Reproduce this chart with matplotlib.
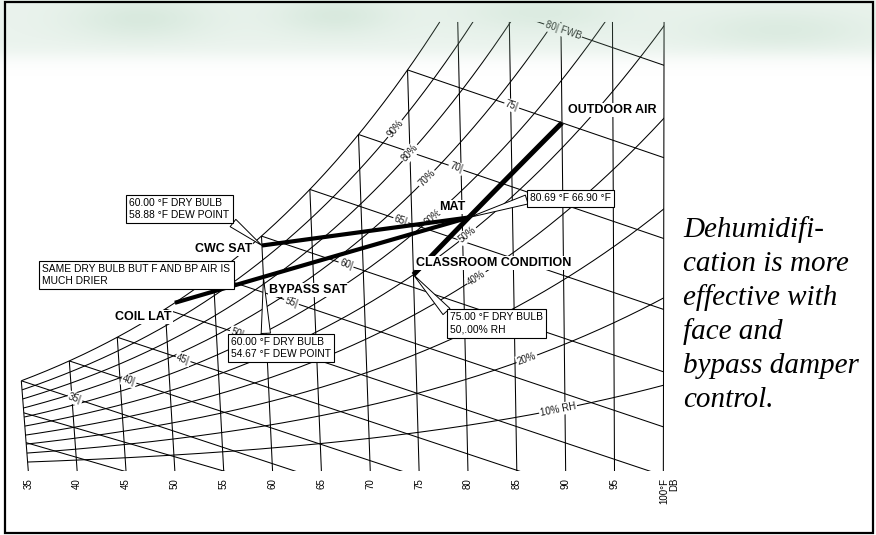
import numpy as np
import matplotlib
matplotlib.use("Agg")
import matplotlib.pyplot as plt
from matplotlib.patches import Polygon, Rectangle

# ------------------------------------------------------------------
# Chart data
# ------------------------------------------------------------------
db_ticks = [35, 40, 45, 50, 55, 60, 65, 70, 75, 80, 85, 90, 95, 100]
wb_lines = [25, 30, 35, 40, 45, 50, 55, 60, 65, 70, 75, 80]
wb_labelled = [35, 40, 45, 50, 55, 60, 65, 70, 75, 80]
rh_lines = [10, 20, 30, 40, 50, 60, 70, 80, 90]
rh_labelled = [90, 80, 70, 60, 50, 40, 20, 10]

outdoor_db, outdoor_wb = 90.0, 75.0
room_db, room_rh = 75.00, 50.00
mat_db, mat_wb = 80.69, 66.90
cwc_db, cwc_dp = 60.00, 58.88
bypass_db, bypass_dp = 60.00, 54.67
coil_db, coil_dp = 51.0, 51.0

side_note = ["Dehumidifi-", "cation is more", "effective with",
             "face and", "bypass damper", "control."]

# ------------------------------------------------------------------
# Psychrometric relations (IP units)
# ------------------------------------------------------------------
P_ATM = 10.3  # psia


def p_ws(t_f):
    t_f = np.asarray(t_f, dtype=float)
    t = t_f + 459.67
    water = np.exp(-1.0440397e4 / t - 1.1294650e1 - 2.7022355e-2 * t
                   + 1.2890360e-5 * t ** 2 - 2.4780681e-9 * t ** 3
                   + 6.5459673 * np.log(t))
    ice = np.exp(-1.0214165e4 / t - 4.8932428 - 5.3765794e-3 * t
                 + 1.9202377e-7 * t ** 2 + 3.5575832e-10 * t ** 3
                 - 9.0344688e-14 * t ** 4 + 4.1635019 * np.log(t))
    return np.where(t_f >= 32, water, ice)


def w_from_pw(pw):
    return 0.621945 * pw / (P_ATM - pw)


def w_sat(t):
    return w_from_pw(p_ws(t))


def w_rh(t, rh):
    return w_from_pw(rh * p_ws(t))


def w_dp(tdp):
    return w_from_pw(p_ws(tdp))


def w_wb(t, twb):
    t = np.asarray(t, dtype=float)
    ws = w_sat(twb)
    if twb >= 32:
        return ((1093 - 0.556 * twb) * ws - 0.240 * (t - twb)) / (1093 + 0.444 * t - twb)
    return ((1220 - 0.04 * twb) * ws - 0.240 * (t - twb)) / (1220 + 0.444 * t - 0.48 * twb)


# Oblique chart coordinate: dry-bulb lines fan slightly about T_VERT
LEAN = 18 / 9.77
T_VERT = 98.7
W_TOP = 0.03034


def chart_x(t, w):
    return t + LEAN * w * (t - T_VERT)


# ------------------------------------------------------------------
# Figure
# ------------------------------------------------------------------
W_PX, H_PX = 876, 535
fig = plt.figure(figsize=(W_PX / 100, H_PX / 100), dpi=100)
fig.patch.set_facecolor("white")

# soft green haze along the top edge
yy, xx = np.mgrid[0:H_PX, 0:W_PX].astype(float)
fade = 1.0 / (1.0 + np.exp((yy - 56) / 5.0))
blobs = (0.55 * np.exp(-((xx - 140) / 70) ** 2 - ((yy - 18) / 22) ** 2)
         + 0.55 * np.exp(-((xx - 335) / 60) ** 2 - ((yy - 15) / 20) ** 2)
         + 0.45 * np.exp(-((xx - 540) / 80) ** 2 - ((yy - 12) / 20) ** 2)
         + 0.45 * np.exp(-((xx - 780) / 90) ** 2 - ((yy - 30) / 22) ** 2))
alpha = fade * (0.20 + 0.30 * blobs)
haze = np.zeros((H_PX, W_PX, 4))
haze[..., 0] = 150 / 255
haze[..., 1] = 196 / 255
haze[..., 2] = 165 / 255
haze[..., 3] = np.clip(alpha, 0, 1)
fig.figimage(haze, 0, 0, origin="upper", zorder=0)

ax = fig.add_axes([0, 0, 1, 1])
ax.patch.set_alpha(0)
ax.set_axis_off()
ax.set_xlim(35 - 28.3 / 9.77, 35 + (W_PX - 28.3) / 9.77)
ax.set_ylim((471 - H_PX) / 14800, 471 / 14800)

GRID = dict(color="black", lw=0.75, solid_capstyle="butt")
SANS = "Liberation Sans"

# chart outline used to clip the RH and wet-bulb lines
t_dense = np.linspace(35, 100, 6501)
t_top = float(np.interp(W_TOP, w_sat(t_dense), t_dense))
t_sat = np.linspace(35, t_top, 300)
w_s = w_sat(t_sat)
outline = [(chart_x(35, 0), 0)]
outline += list(zip(chart_x(t_sat, w_s), w_s))
outline += [(chart_x(100, W_TOP), W_TOP), (chart_x(100, 0), 0)]
clip_poly = Polygon(outline, closed=True, transform=ax.transData,
                    fc="none", ec="none")
ax.add_patch(clip_poly)

# saturation curve
ax.plot(chart_x(t_sat, w_s), w_s, zorder=1, **GRID)

# dry-bulb lines
for t in db_ticks:
    wt = min(float(w_sat(t)), W_TOP)
    ax.plot([chart_x(t, 0), chart_x(t, wt)], [0, wt], zorder=1, **GRID)

# relative humidity curves
t_rh = np.linspace(34, 101, 400)
for rh in rh_lines:
    w = w_rh(t_rh, rh / 100)
    ln, = ax.plot(chart_x(t_rh, w), w, zorder=1, **GRID)
    ln.set_clip_path(clip_poly)

# wet-bulb lines
for wb in wb_lines:
    t = np.linspace(wb, 115, 300)
    w = w_wb(t, wb)
    ln, = ax.plot(chart_x(t, w), w, zorder=1, **GRID)
    ln.set_clip_path(clip_poly)


def screen_angle(x1, y1, x2, y2):
    p1 = ax.transData.transform((x1, y1))
    p2 = ax.transData.transform((x2, y2))
    return np.degrees(np.arctan2(p2[1] - p1[1], p2[0] - p1[0]))


LABEL_BOX = dict(boxstyle="square,pad=0.12", fc="white", ec="none")

# RH curve labels
rh_label_db = {90: 73.6, 80: 75.0, 70: 76.6, 60: 77.1, 50: 80.5,
               40: 81.3, 20: 86.2, 10: 89.3}
for rh in rh_labelled:
    t = rh_label_db[rh]
    w = float(w_rh(t, rh / 100))
    w1, w2 = float(w_rh(t - 0.5, rh / 100)), float(w_rh(t + 0.5, rh / 100))
    ang = screen_angle(chart_x(t - 0.5, w1), w1, chart_x(t + 0.5, w2), w2)
    txt = f"{rh}% RH" if rh == 10 else f"{rh}%"
    ax.text(chart_x(t, w), w, txt, rotation=ang, rotation_mode="anchor",
            ha="center", va="center", fontsize=7, family=SANS,
            color="#1a1a1a", bbox=LABEL_BOX, zorder=2)

# wet-bulb labels
for wb in wb_labelled:
    t = wb + 5.3 + 0.12 * (wb - 35)
    if wb == 80:
        t = 90.2
    w = float(w_wb(t, wb))
    w1, w2 = float(w_wb(t - 0.5, wb)), float(w_wb(t + 0.5, wb))
    ang = screen_angle(chart_x(t - 0.5, w1), w1, chart_x(t + 0.5, w2), w2)
    txt = "80| FWB" if wb == 80 else f"{wb}|"
    ax.text(chart_x(t, w), w, txt, rotation=ang, rotation_mode="anchor",
            ha="center", va="center", fontsize=7, family=SANS,
            color="#1a1a1a", bbox=LABEL_BOX, zorder=2)

# dry-bulb scale
for t in db_ticks:
    if t == 100:
        ax.annotate("100°F\nDB", (chart_x(t, 0), 0), xytext=(-4, -7),
                    textcoords="offset pixels", rotation=90, ha="left",
                    va="top", multialignment="right", fontsize=7,
                    family=SANS, linespacing=1.0)
    else:
        ax.annotate(str(t), (chart_x(t, 0), 0), xytext=(0, -7),
                    textcoords="offset pixels", rotation=90, ha="center",
                    va="top", fontsize=7, family=SANS)

# ------------------------------------------------------------------
# Process lines
# ------------------------------------------------------------------
w_oa = float(w_wb(outdoor_db, outdoor_wb))
w_room = float(w_rh(room_db, room_rh / 100))
w_mat = float(w_wb(mat_db, mat_wb))
w_cwc = float(w_dp(cwc_dp))
w_byp = float(w_dp(bypass_dp))
w_coil = float(w_dp(coil_dp))


def process_line(t1, w1, t2, w2, lw):
    f = np.linspace(0, 1, 30)
    t = t1 + f * (t2 - t1)
    w = w1 + f * (w2 - w1)
    ax.plot(chart_x(t, w), w, color="black", lw=lw,
            solid_capstyle="butt", zorder=3)


process_line(outdoor_db, w_oa, room_db, w_room, 3.6)
process_line(cwc_db, w_cwc, mat_db, w_mat, 3.0)
process_line(coil_db, w_coil, mat_db, w_mat, 3.0)

pt_oa = (chart_x(outdoor_db, w_oa), w_oa)
pt_room = (chart_x(room_db, w_room), w_room)
pt_mat = (chart_x(mat_db, w_mat), w_mat)
pt_cwc = (chart_x(cwc_db, w_cwc), w_cwc)
pt_byp = (chart_x(bypass_db, w_byp), w_byp)
pt_coil = (chart_x(coil_db, w_coil), w_coil)

BOLD_BOX = dict(boxstyle="square,pad=0.08", fc="white", ec="none")


def bold_label(text, pt, dx, dy, ha):
    ax.annotate(text, pt, xytext=(dx, dy), textcoords="offset pixels",
                ha=ha, va="center", fontsize=9, fontweight="bold",
                family=SANS, bbox=BOLD_BOX, zorder=4)


bold_label("OUTDOOR AIR", pt_oa, 6, 13, "left")
bold_label("MAT", pt_mat, -4, 10, "right")
bold_label("CWC SAT", pt_cwc, -10, -3, "right")
bold_label("CLASSROOM CONDITION", pt_room, 3, 12, "left")
bold_label("BYPASS SAT", pt_byp, 6, -12, "left")
bold_label("COIL LAT", pt_coil, -3, -14, "right")

NOTE_BOX = dict(boxstyle="square,pad=0.3", fc="white", ec="black", lw=0.8)


def callout(text, pt, dx, dy, relpos):
    ax.annotate(text, pt, xytext=(dx, dy), textcoords="offset pixels",
                ha="center", va="center", multialignment="left",
                fontsize=7.4, family=SANS,
                linespacing=1.3, bbox=NOTE_BOX, zorder=5,
                arrowprops=dict(arrowstyle="wedge,tail_width=0.9,shrink_factor=0.5",
                                fc="white", ec="black", lw=0.7,
                                relpos=relpos, shrinkA=0, shrinkB=0))


callout(f"{cwc_db:.2f} °F DRY BULB\n{cwc_dp:.2f} °F DEW POINT",
        pt_cwc, -82.5, 36.5, (0.97, 0.1))
callout(f"{mat_db:.2f} °F {mat_wb:.2f} °F", pt_mat, 101.5, 19, (0.0, 0.5))
callout(f"{bypass_db:.2f} °F DRY BULB\n{bypass_dp:.2f} °F DEW POINT",
        pt_byp, 17.5, -70, (0.35, 1.0))
callout(f"{room_db:.2f} °F DRY BULB\n50,.00% RH", pt_room, 83, -48.5, (0.0, 0.85))

ax.annotate("SAME DRY BULB BUT F AND BP AIR IS\nMUCH DRIER", pt_cwc,
            xytext=(-125.5, -29.5), textcoords="offset pixels",
            ha="center", va="center", multialignment="left",
            fontsize=7.4, family=SANS,
            linespacing=1.15, bbox=NOTE_BOX, zorder=5)

# ------------------------------------------------------------------
# Side note and frame
# ------------------------------------------------------------------
for i, line in enumerate(side_note):
    fig.text(683 / W_PX, 1 - (237 + 34 * i) / H_PX, line, ha="left",
             va="baseline", fontsize=21, style="italic",
             family="Liberation Serif", color="black")

fig.add_artist(Rectangle((4.5 / W_PX, 2.5 / H_PX), 868.5 / W_PX, 531 / H_PX,
                         transform=fig.transFigure, fill=False,
                         ec="black", lw=1.6, zorder=10))

fig.savefig("out.png", dpi=100)
